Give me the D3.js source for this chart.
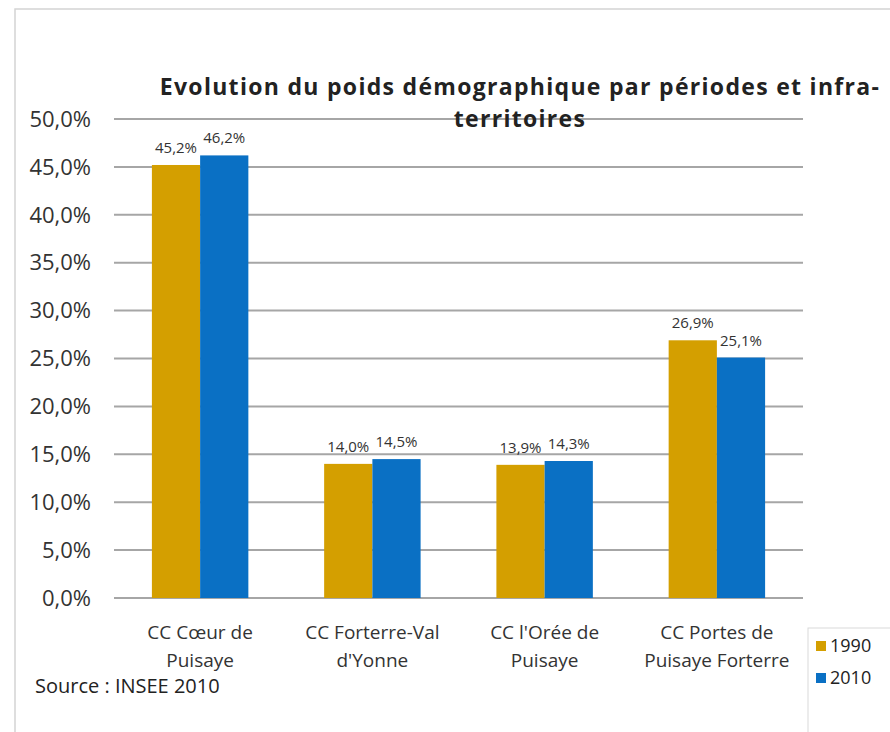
<!DOCTYPE html>
<html>
<head>
<meta charset="utf-8">
<script src="https://cdn.jsdelivr.net/npm/d3@7"></script>
<style>
  body { margin: 0; background: #fff; }
  text { font-family: "Open Sans", sans-serif; }
</style>
</head>
<body>
<div id="chart"></div>
<script>
// territories (two-line labels) and the two periods
const categories = ["CC Cœur de|Puisaye", "CC Forterre-Val|d'Yonne", "CC l'Orée de|Puisaye", "CC Portes de|Puisaye Forterre"];
const periods = ["1990", "2010"];
const values1990 = [45.2, 14.0, 13.9, 26.9];
const values2010 = [46.2, 14.5, 14.3, 25.1];
const yTicks = [0, 5, 10, 15, 20, 25, 30, 35, 40, 45, 50];
const titleLines = ["Evolution du poids démographique par périodes et infra-", "territoires"];

const width = 890, height = 732;
const colors = { "1990": "#D49F00", "2010": "#0A70C4" };
const fmt = v => v.toFixed(1).replace(".", ",") + "%";

const svg = d3.select("#chart").append("svg")
  .attr("width", width)
  .attr("height", height);

// outer frame (top and left edges only are visible)
svg.append("path")
  .attr("d", `M15,${height} L15,9 L${width},9`)
  .attr("fill", "none")
  .attr("stroke", "#d4d4d4")
  .attr("stroke-width", 1.5);

const plot = { left: 114, right: 803, top: 119, bottom: 598 };

const x = d3.scaleBand()
  .domain(categories)
  .range([plot.left, plot.right])
  .paddingInner(0.44)
  .paddingOuter(0.22);

const x1 = d3.scaleBand()
  .domain(periods)
  .range([0, x.bandwidth()]);

const y = d3.scaleLinear()
  .domain([0, 50])
  .range([plot.bottom, plot.top]);

// gridlines
svg.append("g")
  .selectAll("line")
  .data(yTicks)
  .join("line")
  .attr("x1", plot.left)
  .attr("x2", plot.right)
  .attr("y1", d => y(d))
  .attr("y2", d => y(d))
  .attr("stroke", "#a6a6a6")
  .attr("stroke-width", 2);

// y tick labels
svg.append("g")
  .selectAll("text")
  .data(yTicks)
  .join("text")
  .attr("x", 91)
  .attr("y", d => y(d))
  .attr("dy", "0.35em")
  .attr("text-anchor", "end")
  .style("font-size", "22px")
  .style("fill", "#333")
  .text(d => fmt(d));

// bars
const rows = categories.map((c, i) => ({ cat: c, vals: [
  { period: "1990", value: values1990[i] },
  { period: "2010", value: values2010[i] }
] }));

const groups = svg.append("g")
  .selectAll("g")
  .data(rows)
  .join("g")
  .attr("transform", d => `translate(${x(d.cat)},0)`);

groups.selectAll("rect")
  .data(d => d.vals)
  .join("rect")
  .attr("x", d => x1(d.period))
  .attr("y", d => y(d.value))
  .attr("width", x1.bandwidth())
  .attr("height", d => y(0) - y(d.value))
  .attr("fill", d => colors[d.period]);

groups.selectAll("text")
  .data(d => d.vals)
  .join("text")
  .attr("x", d => x1(d.period) + x1.bandwidth() / 2)
  .attr("y", d => y(d.value) - 12)
  .attr("text-anchor", "middle")
  .style("font-size", "15px")
  .style("fill", "#333")
  .text(d => fmt(d.value));

// category labels, two lines
const catLabels = svg.append("g")
  .selectAll("text")
  .data(categories)
  .join("text")
  .attr("x", d => x(d) + x.bandwidth() / 2)
  .attr("y", 639)
  .attr("text-anchor", "middle")
  .style("font-size", "19px")
  .style("fill", "#333");
catLabels.selectAll("tspan")
  .data(d => d.split("|"))
  .join("tspan")
  .attr("x", function () { return d3.select(this.parentNode).attr("x"); })
  .attr("dy", (d, i) => i === 0 ? 0 : 28)
  .text(d => d);

// title, one text per line
svg.append("g")
  .selectAll("text")
  .data(titleLines)
  .join("text")
  .attr("x", 520)
  .attr("y", (d, i) => 95 + i * 32)
  .attr("text-anchor", "middle")
  .style("font-size", "23px")
  .style("font-weight", "bold")
  .style("letter-spacing", "1.3px")
  .style("fill", "#222")
  .text(d => d);

// legend
const legend = svg.append("g").attr("transform", "translate(808,628)");
legend.append("rect")
  .attr("width", 90).attr("height", 110)
  .attr("fill", "#fff")
  .attr("stroke", "#d9d9d9");
legend.selectAll("g")
  .data(periods)
  .join("g")
  .attr("transform", (d, i) => `translate(8,${18 + i * 32})`)
  .each(function (d) {
    const g = d3.select(this);
    g.append("rect").attr("y", -5).attr("width", 10).attr("height", 10).attr("fill", colors[d]);
    g.append("text").attr("x", 14).attr("dy", "0.35em")
      .style("font-size", "18px").style("fill", "#222").text(d);
  });

// source note
svg.append("text")
  .attr("x", 35)
  .attr("y", 693)
  .style("font-size", "20px")
  .style("fill", "#222")
  .text("Source : INSEE 2010");
</script>
</body>
</html>
